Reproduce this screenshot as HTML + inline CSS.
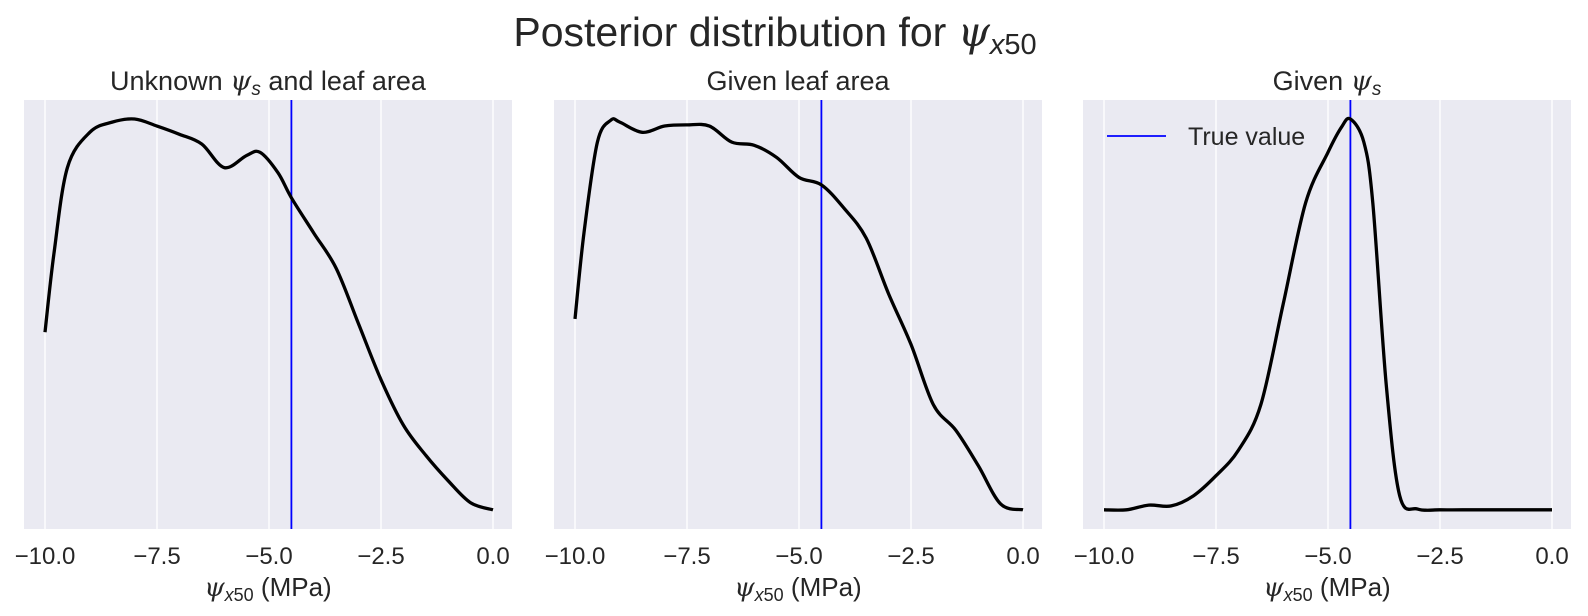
<!DOCTYPE html>
<html><head><meta charset="utf-8"><style>
body{margin:0;background:#fff;}
svg{display:block;font-family:"Liberation Sans","DejaVu Sans",sans-serif;}
</style></head><body>
<svg id="fig" width="1588" height="616" viewBox="0 0 1588 616" xmlns="http://www.w3.org/2000/svg">
<text x="775" y="46" font-size="41" text-anchor="middle" fill="#262626">Posterior distribution for <tspan font-style="italic" font-family="DejaVu Serif, serif">ψ</tspan><tspan font-style="italic" font-size="29" dy="8">x</tspan><tspan font-size="29">50</tspan></text>
</svg>
<script>
const xs1=[-10,-9.8,-9.5,-9,-8.5,-8,-7.5,-7,-6.5,-6,-5.5,-5.2,-4.8,-4.5,-4,-3.5,-3,-2.5,-2,-1.5,-1,-0.5,0];
const d1=[.456,.657,.876,.966,.992,1.0,.982,.961,.936,.876,.907,.915,.863,.799,.709,.619,.477,.335,.219,.142,.077,.021,.003];
const xs2=[-10,-9.8,-9.5,-9.2,-9,-8.5,-8,-7.5,-7,-6.5,-6,-5.5,-5,-4.5,-4,-3.5,-3,-2.5,-2,-1.5,-1,-0.5,0];
const d2=[.49,.709,.941,.997,.992,.966,.982,.985,.982,.941,.933,.902,.851,.832,.773,.696,.554,.425,.271,.206,.116,.018,.003];
const xs3=[-10,-9.5,-9,-8.5,-8,-7.5,-7,-6.5,-6,-5.5,-5,-4.7,-4.5,-4.2,-4,-3.7,-3.4,-3,-2.5,-2,-1,0];
const d3=[.003,.003,.015,.013,.039,.090,.155,.271,.528,.786,.915,.979,1.0,.941,.786,.322,.039,.005,.003,.003,.003,.003];
const trueValue=-4.5;
const xTicks=[-10,-7.5,-5,-2.5,0];
const xTickLabels=["−10.0","−7.5","−5.0","−2.5","0.0"];
const titles=["Unknown |ψ|s| and leaf area","Given leaf area","Given |ψ|s|"];
const panels=[{left:24,x0:45},{left:554,x0:575},{left:1083,x0:1104}];
const series=[[xs1,d1],[xs2,d2],[xs3,d3]];
const NS="http://www.w3.org/2000/svg";
const svg=document.getElementById('fig');
const W=488,yTop=100,bot=529,unit=44.8,yBase=511,yScale=392;
function mk(t,a,p){const e=document.createElementNS(NS,t);for(const k in a)e.setAttribute(k,a[k]);(p||svg).appendChild(e);return e;}
function smooth(pts){let d=`M${pts[0][0]},${pts[0][1]}`;for(let i=0;i<pts.length-1;i++){const p0=pts[Math.max(0,i-1)],p1=pts[i],p2=pts[i+1],p3=pts[Math.min(pts.length-1,i+2)];const c1=[p1[0]+(p2[0]-p0[0])/6,p1[1]+(p2[1]-p0[1])/6],c2=[p2[0]-(p3[0]-p1[0])/6,p2[1]-(p3[1]-p1[1])/6];d+=` C${c1[0]},${c1[1]} ${c2[0]},${c2[1]} ${p2[0]},${p2[1]}`;}return d;}
panels.forEach((p,i)=>{
 const sx=v=>p.x0+(v+10)*unit, sy=v=>yBase-v*yScale;
 const g=mk('g',{});
 
 
 const bg=mk('rect',{x:p.left,y:yTop,width:W,height:bot-yTop,fill:'#eaeaf2'},g);
 
 
 xTicks.forEach((t,j)=>{
  const gl=mk('line',{x1:sx(t),x2:sx(t),y1:yTop,y2:bot,stroke:'#fff','stroke-width':1.4},g);
  
  
  const tl=mk('text',{x:sx(t),y:bot+35,'font-size':24,'text-anchor':'middle',fill:'#262626'},g);
  tl.textContent=xTickLabels[j];
  
  
 });
 const tv=mk('line',{x1:sx(trueValue),x2:sx(trueValue),y1:yTop,y2:bot,stroke:'#0000ff','stroke-width':1.8},g);
 
 
 const [xs,ds]=series[i];
 const pts=xs.map((x,k)=>[sx(x),sy(ds[k])]);
 const c=mk('path',{d:smooth(pts),fill:'none',stroke:'#000','stroke-width':3.3},g);
 
 
 const parts=titles[i].split('|');
 const tt=mk('text',{x:p.left+W/2,y:90,'font-size':27,'text-anchor':'middle',fill:'#262626'},g);
 
 
 if(parts.length>1){
  tt.appendChild(document.createTextNode(parts[0]));
  const a=mk('tspan',{'font-style':'italic','font-family':'DejaVu Serif, serif'},tt);a.textContent=parts[1];
  const b=mk('tspan',{'font-style':'italic','font-size':19,dy:5},tt);b.textContent=parts[2];
  const c2=mk('tspan',{dy:-5},tt);c2.textContent=parts[3];
 } else tt.textContent=parts[0];
 const xl=mk('text',{x:p.left+W/2,y:bot+67,'font-size':26,'text-anchor':'middle',fill:'#262626'},g);
 
 
 const a1=mk('tspan',{'font-style':'italic','font-family':'DejaVu Serif, serif'},xl);a1.textContent='ψ';
 const a2=mk('tspan',{'font-style':'italic','font-size':18,dy:5},xl);a2.textContent='x';
 const a3=mk('tspan',{'font-size':18},xl);a3.textContent='50';
 const a4=mk('tspan',{dy:-5},xl);a4.textContent=' (MPa)';
});
const lg=mk('g',{});


const ll=mk('line',{x1:1107,x2:1166,y1:136,y2:136,stroke:'#0000ff','stroke-width':1.8},lg);


const lt=mk('text',{x:1188,y:145,'font-size':25,fill:'#262626'},lg);
lt.textContent='True value';


</script>
</body></html>
